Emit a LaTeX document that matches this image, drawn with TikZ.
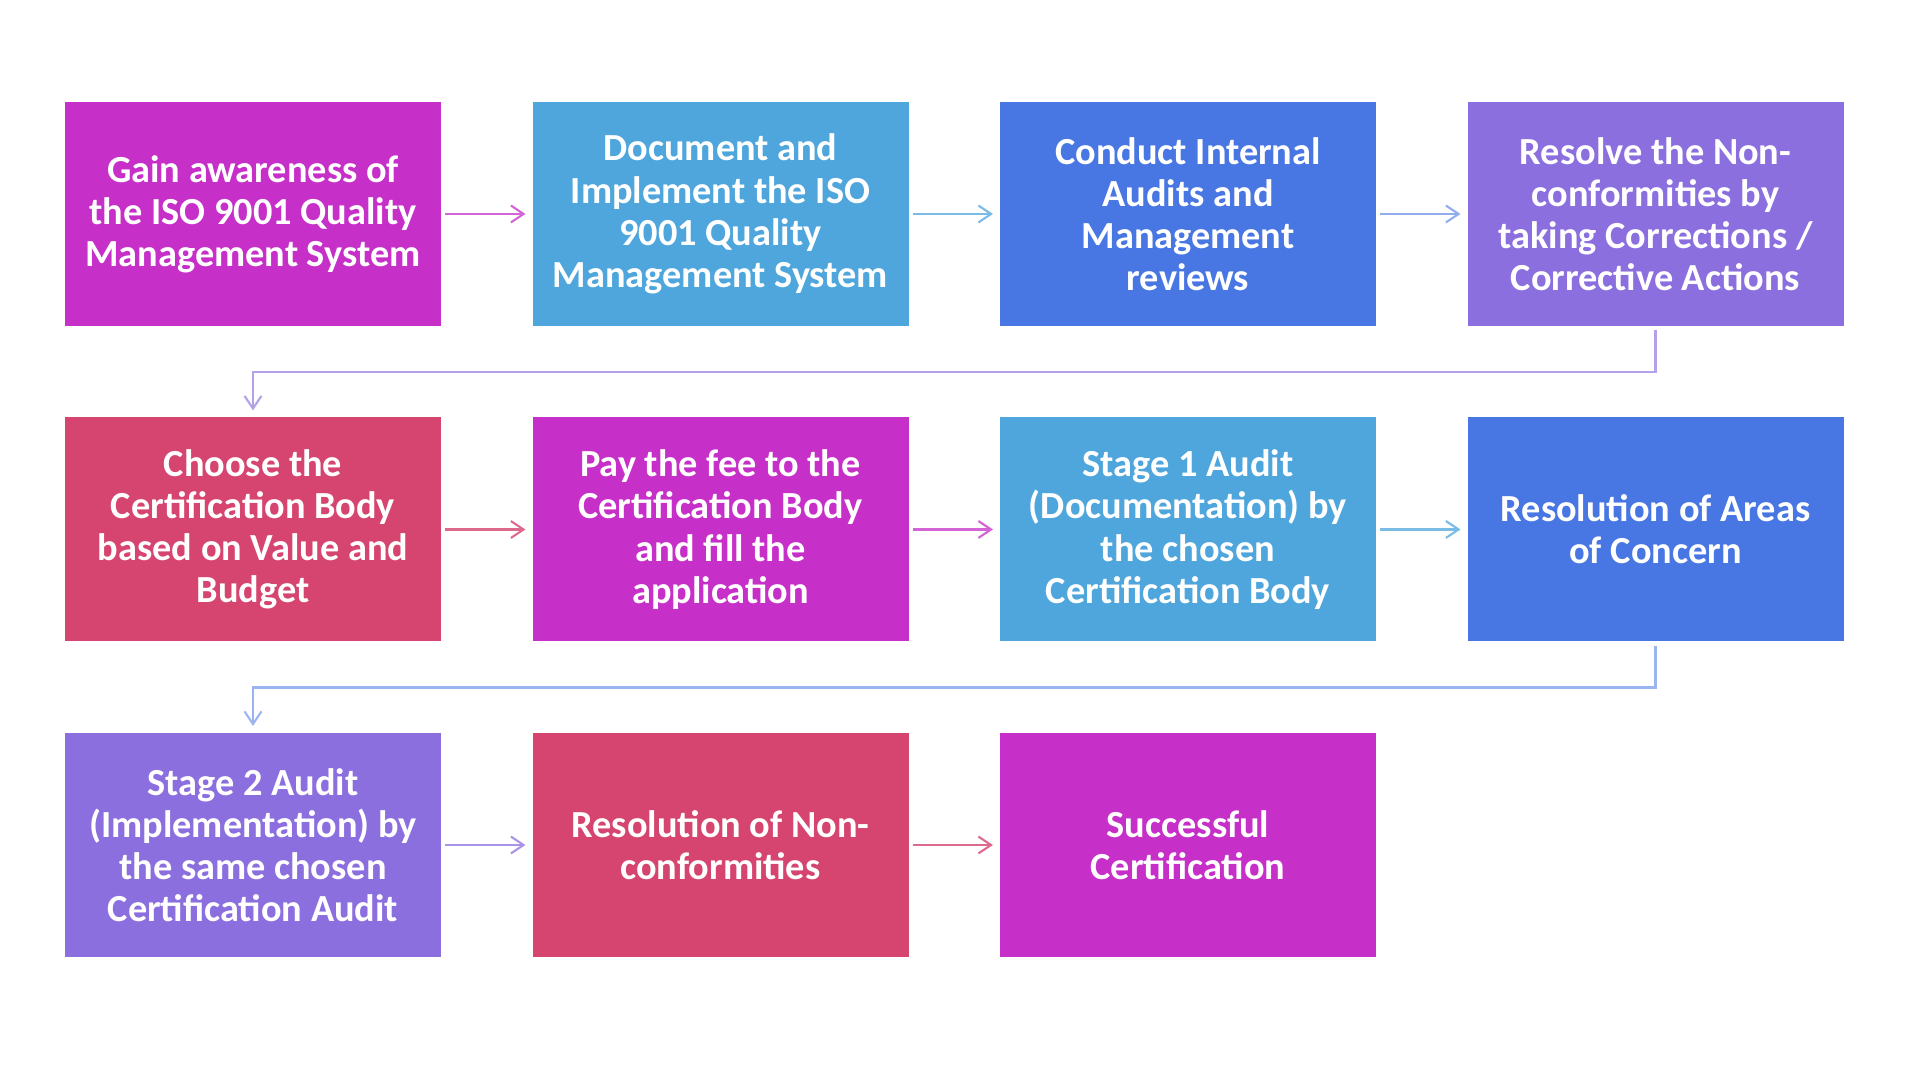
\documentclass[tikz,border=0pt]{standalone}
\usepackage{fontspec}
\setmainfont{Carlito}
\usetikzlibrary{arrows.meta,positioning}
\definecolor{isoMagenta}{HTML}{C62FC8}
\definecolor{isoSky}{HTML}{4EA6DC}
\definecolor{isoBlue}{HTML}{4877E3}
\definecolor{isoViolet}{HTML}{8C6FDF}
\definecolor{isoRose}{HTML}{D5456F}
\tikzset{
	stepbox/.style={minimum width=3.76cm, minimum height=2.24cm, inner sep=0pt, outer sep=0pt,
		align=center, text=white, font=\fontsize{10.9}{12}\selectfont\bfseries},
	flow/.style={-{Straight Barb[length=3.6pt,width=4.8pt]}, line width=0.6pt,
		shorten <=1.2pt, shorten >=2pt},
}

\begin{document}
\begin{tikzpicture}[node distance=0.915cm]
	% page frame
	\fill[white] (0,0) rectangle (19.2,10.8);
	\useasboundingbox (0,0) rectangle (19.2,10.8);
	% first row
	\node[stepbox, fill=isoMagenta] (aware) at (2.53,8.66) {Gain awareness of\\the ISO 9001 Quality\\Management System};
	\node[stepbox, fill=isoSky, right=of aware] (implement) {Document and\\Implement the ISO\\9001 Quality\\Management System};
	\node[stepbox, fill=isoBlue, right=of implement] (internal) {Conduct Internal\\Audits and\\Management\\reviews};
	\node[stepbox, fill=isoViolet, right=of internal] (resolve) {Resolve the Non-\\conformities by\\taking Corrections /\\Corrective Actions};
	% second row
	\node[stepbox, fill=isoRose, below=of aware] (choose) {Choose the\\Certification Body\\based on Value and\\Budget};
	\node[stepbox, fill=isoMagenta, right=of choose] (pay) {Pay the fee to the\\Certification Body\\and fill the\\application};
	\node[stepbox, fill=isoSky, right=of pay] (stageone) {Stage 1 Audit\\(Documentation) by\\the chosen\\Certification Body};
	\node[stepbox, fill=isoBlue, right=of stageone] (concern) {Resolution of Areas\\of Concern};
	% third row
	\node[stepbox, fill=isoViolet, below=of choose] (stagetwo) {Stage 2 Audit\\(Implementation) by\\the same chosen\\Certification Audit};
	\node[stepbox, fill=isoRose, right=of stagetwo] (nonconf) {Resolution of Non-\\conformities};
	\node[stepbox, fill=isoMagenta, right=of nonconf] (success) {Successful\\Certification};
	% arrows along the rows
	\draw[flow, isoMagenta!75] (aware) -- (implement);
	\draw[flow, isoSky!75] (implement) -- (internal);
	\draw[flow, isoBlue!60] (internal) -- (resolve);
	\draw[flow, isoRose!80] (choose) -- (pay);
	\draw[flow, isoMagenta!75] (pay) -- (stageone);
	\draw[flow, isoSky!75] (stageone) -- (concern);
	\draw[flow, isoViolet!75] (stagetwo) -- (nonconf);
	\draw[flow, isoRose!80] (nonconf) -- (success);
	% return lines between rows
	\draw[flow, isoViolet!65] (resolve.south) -- ++(0,-0.46) -| (choose.north);
	\draw[flow, isoBlue!55] (concern.south) -- ++(0,-0.46) -| (stagetwo.north);
\end{tikzpicture}
\end{document}
